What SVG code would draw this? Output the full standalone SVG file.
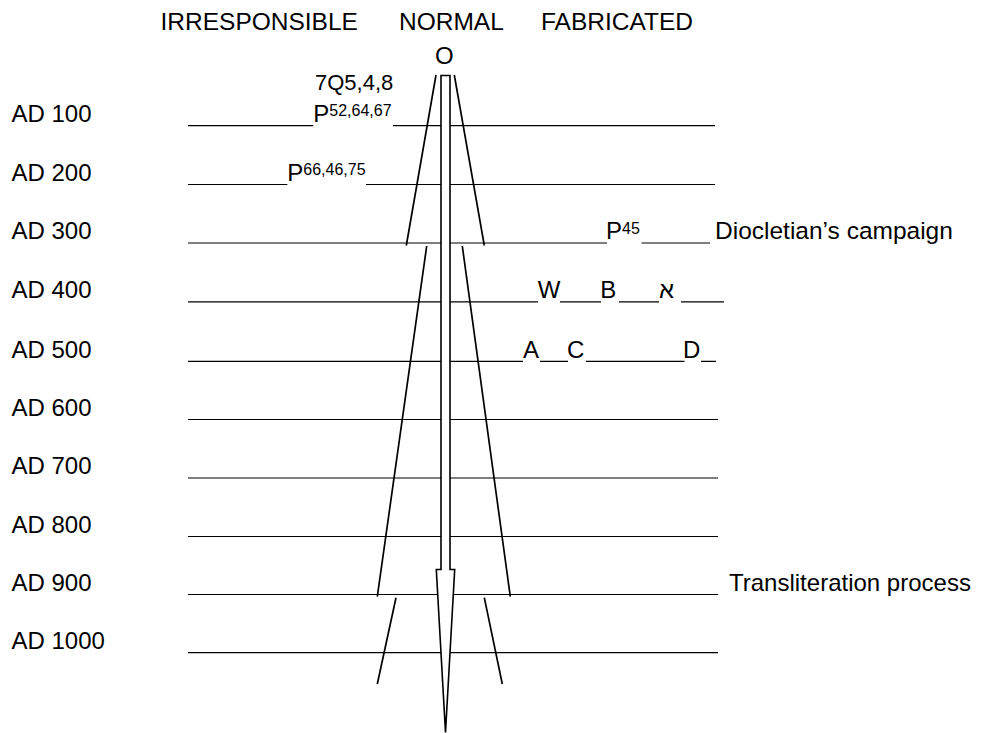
<svg xmlns="http://www.w3.org/2000/svg" width="982" height="733" viewBox="0 0 982 733">
<style>
text{font-family:"Liberation Sans",Arial,"DejaVu Sans",sans-serif;font-size:24px;fill:#000}
.hd{font-size:24.5px}
.sm{font-size:22px}
.sup{font-size:16px}
.rule{stroke:#000;stroke-width:1.2;fill:none}
.cone{stroke:#000;stroke-width:1.7;fill:none;stroke-linecap:butt}
.shaft{stroke:#000;stroke-width:1.6;fill:#fff;stroke-linejoin:miter}
</style>
<rect width="982" height="733" fill="#fff"/>
<g id="headers">
<text class="hd" x="160.5" y="30">IRRESPONSIBLE</text>
<text class="hd" x="399" y="30">NORMAL</text>
<text class="hd" x="541" y="30">FABRICATED</text>
<text x="444.3" y="63.5" text-anchor="middle">O</text>
</g>
<g id="labels">
<text x="11.5" y="121.9">AD 100</text>
<text x="11.5" y="180.7">AD 200</text>
<text x="11.5" y="239.2">AD 300</text>
<text x="11.5" y="298">AD 400</text>
<text x="11.5" y="357.5">AD 500</text>
<text x="11.5" y="415.7">AD 600</text>
<text x="11.5" y="474.2">AD 700</text>
<text x="11.5" y="532.7">AD 800</text>
<text x="11.5" y="590.7">AD 900</text>
<text x="11.5" y="648.9">AD 1000</text>
</g>
<g id="rules">
<path class="rule" d="M188 125.7H313.3M393 125.7H715"/>
<path class="rule" d="M188 184.5H287.3M366 184.5H715"/>
<path class="rule" d="M188 243H607M641.5 243H710"/>
<path class="rule" d="M188 301.8H538M560 301.8H601M619 301.8H659M681 301.8H724"/>
<path class="rule" d="M188 361.3H523M540 361.3H568M586 361.3H684.5M701 361.3H716"/>
<path class="rule" d="M188 419.5H718"/>
<path class="rule" d="M188 478H718"/>
<path class="rule" d="M188 536.5H718"/>
<path class="rule" d="M188 594.5H718"/>
<path class="rule" d="M188 652.7H718"/>
</g>
<g id="manuscripts">
<text class="sm" x="315" y="90">7Q5,4,8</text>
<text x="313.3" y="121.9">P<tspan class="sup" dy="-5.5">52,64,67</tspan></text>
<text x="287.3" y="180.7">P<tspan class="sup" dy="-5.5">66,46,75</tspan></text>
<text x="606" y="239.2">P<tspan class="sup" dy="-5.5">45</tspan></text>
<text class="hd" x="715" y="239.2">Diocletian’s campaign</text>
<text x="537.8" y="298">W</text>
<text x="600.2" y="298">B</text>
<text x="659" y="298">א</text>
<text x="523" y="357.5">A</text>
<text x="567" y="357.5">C</text>
<text x="683" y="357.5">D</text>
<text x="729" y="590.7">Transliteration process</text>
</g>
<g id="cone">
<path class="cone" d="M436 75L406.3 245.5M454.3 75L484.3 245.5"/>
<path class="cone" d="M426.7 246L377.3 596.7M462.3 246L510.3 596.7"/>
<path class="cone" d="M396 597.7L377.3 684M484.3 597.7L502.3 684"/>
</g>
<g id="shaft">
<path class="shaft" d="M441 75.5H450V569.5H454.7L445.5 732.5L436.3 569.5H441Z"/>
</g>
</svg>
